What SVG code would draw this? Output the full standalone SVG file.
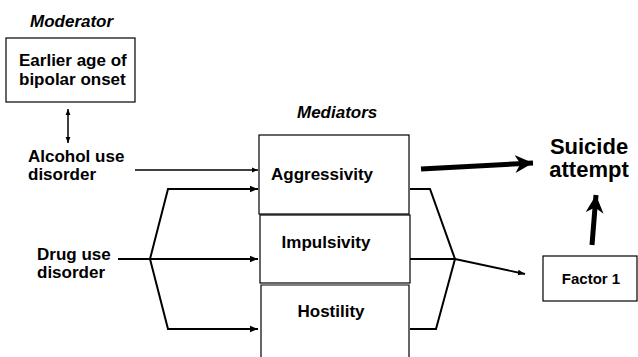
<svg xmlns="http://www.w3.org/2000/svg" width="638" height="357" viewBox="0 0 638 357">
<style>
text{font-family:"Liberation Sans",Arial,sans-serif;font-weight:bold;fill:#000}
.t{font-size:17px}
.i{font-size:17px;font-style:italic}
.box{fill:#fff;stroke:#000;stroke-width:1.2}
.ln{fill:none;stroke:#000;stroke-width:2}
.thick{fill:none;stroke:#000;stroke-width:5}
</style>
<defs>
<marker id="a" viewBox="0 0 10 10" refX="10" refY="5" markerWidth="4" markerHeight="4" orient="auto-start-reverse" markerUnits="strokeWidth"><path d="M0,1 L10,5 L0,9 z" fill="#000"/></marker>
<marker id="b" viewBox="0 0 10 10" refX="10" refY="5" markerWidth="3.6" markerHeight="3.6" orient="auto" markerUnits="strokeWidth"><path d="M0,0 L10,5 L0,10 L3,5 z" fill="#000"/></marker>
</defs>
<text class="i" x="30" y="27">Moderator</text>
<g id="moderator">
<rect class="box" x="6" y="38" width="129" height="64"/>
<text class="t" x="19" y="66">Earlier age of</text>
<text class="t" x="19" y="85">bipolar onset</text>
</g>
<g id="alcohol">
<text class="t" x="28" y="162">Alcohol use</text>
<text class="t" x="28" y="180">disorder</text>
</g>
<g id="drug">
<text class="t" x="37" y="260">Drug use</text>
<text class="t" x="37" y="278">disorder</text>
</g>
<text class="i" x="297" y="118">Mediators</text>
<g id="aggressivity">
<rect class="box" x="259" y="135" width="150" height="79"/>
<text class="t" x="322" y="180" text-anchor="middle">Aggressivity</text>
</g>
<g id="impulsivity">
<rect class="box" x="260" y="215" width="150" height="68"/>
<text class="t" x="326" y="248" text-anchor="middle">Impulsivity</text>
</g>
<g id="hostility">
<path class="box" d="M261,360 V285 H409 V360"/>
<text class="t" x="331" y="317" text-anchor="middle">Hostility</text>
</g>
<g id="suicide">
<text x="589" y="154" text-anchor="middle" style="font-size:22px">Suicide</text>
<text x="589" y="177" text-anchor="middle" style="font-size:22px">attempt</text>
</g>
<g id="factor1">
<rect class="box" x="543" y="256" width="94" height="45"/>
<text x="591" y="284" text-anchor="middle" style="font-size:15px">Factor 1</text>
</g>
<g id="connectors">
<line class="ln" x1="68" y1="109" x2="68" y2="143" stroke-width="1.5" style="stroke-width:1.5" marker-start="url(#a)" marker-end="url(#a)"/>
<line class="ln" x1="135" y1="170" x2="258" y2="170" style="stroke-width:1.6" marker-end="url(#a)"/>
<path class="ln" d="M118,259 H258" marker-end="url(#a)"/>
<path class="ln" d="M258,189 H168 L150,259 L168,329 H258" style="stroke-width:2"/>
<line x1="246" y1="189" x2="258" y2="189" class="ln" marker-end="url(#a)"/>
<line x1="246" y1="329" x2="258" y2="329" class="ln" marker-end="url(#a)"/>
<path class="ln" d="M410,189 H430 L455,259 L436,329 H410"/>
<line class="ln" x1="410" y1="259" x2="455" y2="259"/>
<line class="ln" x1="455" y1="259" x2="525" y2="274" style="stroke-width:1.8" marker-end="url(#a)"/>
<line class="thick" x1="421" y1="169" x2="533" y2="163" marker-end="url(#b)"/>
<line class="thick" x1="592" y1="245" x2="596" y2="195" marker-end="url(#b)"/>
</g>
</svg>
